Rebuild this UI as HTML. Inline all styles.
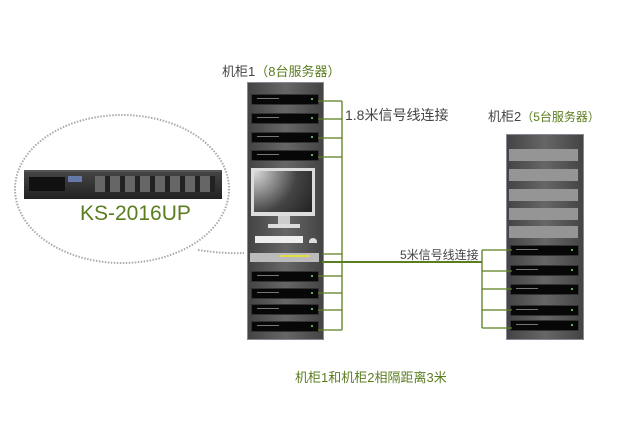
<!DOCTYPE html><html><head><style>
body{margin:0;width:624px;height:425px;background:#fff;position:relative;overflow:hidden;font-family:"Liberation Sans","Noto Sans CJK SC",sans-serif}
div{position:absolute}
.s{background:#070707;border:1px solid #333;height:9px}
.s:before{content:"";position:absolute;left:5px;top:3px;width:22px;height:1px;background:#777}
.s:after{content:"";position:absolute;right:5px;top:3px;width:2px;height:2px;background:#6a6}
.g{background:#959595}
.t{white-space:nowrap;color:#444}
.gr{color:#5a7d1f}
</style></head><body>
<svg width="624" height="425" style="position:absolute;left:0;top:0">
<ellipse cx="122" cy="189" rx="107" ry="74" fill="none" stroke="#aaa" stroke-width="2" stroke-dasharray="1.5 1.5"/>
<path d="M198,250 Q225,254 244,253" fill="none" stroke="#aaa" stroke-width="2" stroke-dasharray="1.5 1.5"/>
</svg>
<div style="left:24px;top:170px;width:198px;height:27px;background:linear-gradient(#444,#222);border-top:2px solid #555"></div>
<div style="left:29px;top:177px;width:36px;height:14px;background:#111"></div>
<div style="left:68px;top:176px;width:14px;height:6px;background:#6677aa"></div>
<div style="left:95px;top:176px;width:120px;height:16px;background:repeating-linear-gradient(90deg,#666 0 10px,#222 10px 15px)"></div>
<div class="gr" style="left:80px;top:202px;font-size:21px">KS-2016UP</div>
<div style="left:247px;top:82px;width:75px;height:256px;background:linear-gradient(90deg,#444,#666 50%,#444);border:1px solid #889"></div>
<div class="s" style="left:251px;top:94px;width:66px"></div>
<div class="s" style="left:251px;top:113px;width:66px"></div>
<div class="s" style="left:251px;top:132px;width:66px"></div>
<div class="s" style="left:251px;top:150px;width:66px"></div>
<div style="left:251px;top:168px;width:64px;height:48px;background:#ddd"></div>
<div style="left:254px;top:171px;width:58px;height:41px;background:radial-gradient(circle at 0 0,#ddd,#444 60%,#222)"></div>
<div style="left:278px;top:216px;width:12px;height:8px;background:#ccc"></div>
<div style="left:268px;top:224px;width:32px;height:4px;background:#ddd"></div>
<div style="left:255px;top:236px;width:48px;height:7px;background:#eee"></div>
<div style="left:309px;top:238px;width:8px;height:5px;background:#ddd;border-radius:4px 4px 0 0"></div>
<div style="left:250px;top:253px;width:69px;height:9px;background:#bbb"></div>
<div style="left:280px;top:255px;width:30px;height:2px;background:#dd4"></div>
<div class="s" style="left:251px;top:271px;width:66px"></div>
<div class="s" style="left:251px;top:288px;width:66px"></div>
<div class="s" style="left:251px;top:304px;width:66px"></div>
<div class="s" style="left:251px;top:321px;width:66px"></div>
<div style="left:506px;top:134px;width:76px;height:204px;background:linear-gradient(90deg,#444,#666 50%,#444);border:1px solid #889"></div>
<div class="g" style="left:509px;top:149px;width:69px;height:12px"></div>
<div class="g" style="left:509px;top:169px;width:69px;height:12px"></div>
<div class="g" style="left:509px;top:189px;width:69px;height:12px"></div>
<div class="g" style="left:509px;top:208px;width:69px;height:12px"></div>
<div class="g" style="left:509px;top:226px;width:69px;height:12px"></div>
<div class="s" style="left:510px;top:245px;width:67px"></div>
<div class="s" style="left:510px;top:265px;width:67px"></div>
<div class="s" style="left:510px;top:284px;width:67px"></div>
<div class="s" style="left:510px;top:305px;width:67px"></div>
<div class="s" style="left:510px;top:320px;width:67px"></div>
<svg width="624" height="425" style="position:absolute;left:0;top:0" fill="none" stroke="#5a7d1f" stroke-width="1.3">
<path d="M342,101V330M318,101H342M318,119H342M318,138H342M318,157H342M322,254H342M318,276H342M318,293H342M318,310H342M318,330H342"/>
<path d="M322,262H482" stroke-width="2"/>
<path d="M482,250V328M482,250H512M482,271H512M482,289H512M482,310H512M482,328H512"/>
</svg>
<div class="t" style="left:222px;top:61px;font-size:13px">机柜1<span class="gr">（8台服务器）</span></div>
<div class="t" style="left:345px;top:105px;font-size:14px">1.8米信号线连接</div>
<div class="t" style="left:488px;top:106px;font-size:13px">机柜2<span class="gr" style="font-size:12px">（5台服务器）</span></div>
<div class="t" style="left:400px;top:246px;font-size:12px">5米信号线连接</div>
<div class="t gr" style="left:295px;top:367px;font-size:13px">机柜1和机柜2相隔距离3米</div>
</body></html>
